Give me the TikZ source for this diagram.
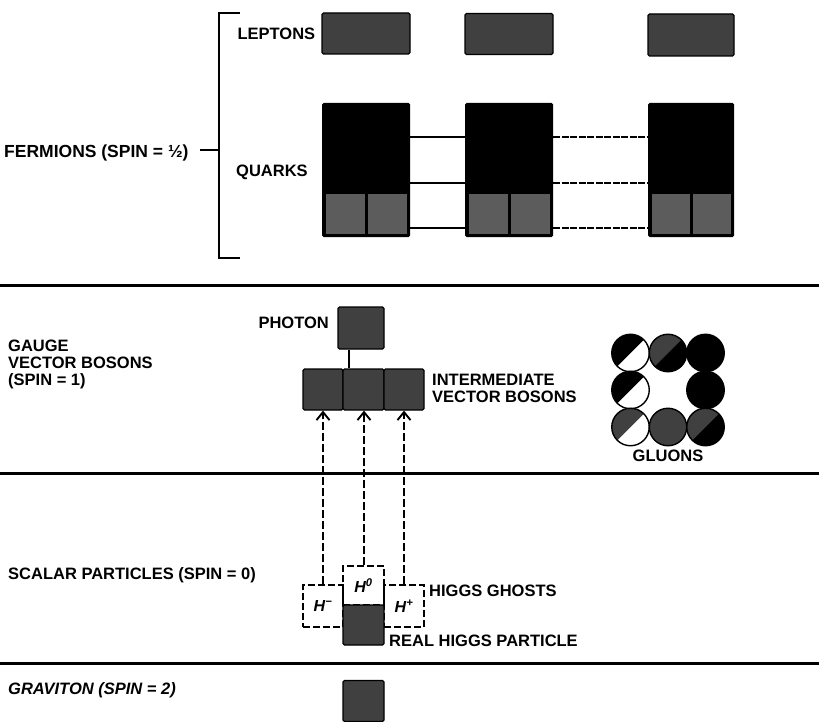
\documentclass[tikz,border=0pt]{standalone}
\usepackage{fontspec}
\setmainfont{Liberation Sans}
\usepackage{tikz}
\usetikzlibrary{arrows.meta, positioning}

\definecolor{speck}{gray}{0.25}
\definecolor{speckq}{gray}{0.36}

\tikzstyle{lbl} = [font=\fontsize{16.5}{17}\selectfont\bfseries, inner sep=0pt, anchor=west, align=left]
\tikzstyle{stip} = [rectangle, draw=black, line width=1.2pt, fill=speck, rounded corners=1.5pt, inner sep=0pt]
\tikzstyle{quark} = [rectangle, fill=black, rounded corners=1.5pt, minimum width=88pt, minimum height=134pt, inner sep=0pt]
\tikzstyle{qhalf} = [rectangle, fill=speckq, minimum width=39pt, minimum height=40pt, inner sep=0pt]
\tikzstyle{ghost} = [rectangle, draw=black, dash pattern=on 7pt off 3pt, line width=1.2pt, inner sep=0pt, font=\fontsize{16}{18}\selectfont\bfseries\itshape]
\tikzstyle{divider} = [line width=3pt]
\tikzstyle{qline} = [line width=1.8pt]
\tikzstyle{arrow} = [line width=1.5pt, dash pattern=on 8pt off 3pt, -{Straight Barb[length=8pt,width=13pt,line width=1.9pt]}]
\tikzstyle{gluon} = [circle, draw=black, line width=1.4pt, minimum size=37.5pt, inner sep=0pt]
\tikzset{half/.style 2 args={fill=#2, path picture={\fill[#1] (path picture bounding box.north west) -- (path picture bounding box.north east) -- (path picture bounding box.south west) -- cycle;}}}

\begin{document}
\begin{tikzpicture}[x=1pt, y=1pt]
        \useasboundingbox (0,0) rectangle (819,-722);

        % Fermions
        \node (ferm) [lbl, font=\fontsize{17.5}{18}\selectfont\bfseries] at (4,-153) {FERMIONS (SPIN = ½)};
        \coordinate (brk) at (219,-150);
        \coordinate (brktop) at (219,-13);
        \coordinate (brkbot) at (219,-258);
        \draw [line width=1.5pt] ([xshift=21pt]brktop) -- (brktop) -- (brkbot) -- ([xshift=21pt]brkbot);
        \draw [line width=1.3pt] ([xshift=-19pt]brk) -- (brk);

        % Leptons
        \node (lep1) [stip, minimum width=88pt, minimum height=41pt] at (366,-33.5) {};
        \node (lep2) [stip, minimum width=88pt, minimum height=41pt] at (509,-34) {};
        \node (lep3) [stip, minimum width=86pt, minimum height=42pt] at (691,-35) {};
        \node (leplbl) [lbl, left=6pt of lep1] {LEPTONS};

        % Quarks
        \node (qk1) [quark] at (366,-170) {};
        \node (qk2) [quark] at (509,-170) {};
        \node (qk3) [quark, minimum width=86pt] at (691,-170) {};
        \node (qk1a) [qhalf] at (345,-214) {};
        \node (qk1b) [qhalf] at (387,-214) {};
        \node (qk2a) [qhalf] at (488,-214) {};
        \node (qk2b) [qhalf] at (530,-214) {};
        \node (qk3a) [qhalf, minimum width=38pt] at (670.5,-214) {};
        \node (qk3b) [qhalf, minimum width=38pt] at (711.5,-214) {};
        \node (qklbl) [lbl] at (236,-172) {QUARKS};

        \coordinate (qa) at (0,-137);
        \coordinate (qb) at (0,-183);
        \coordinate (qc) at (0,-228);
        \draw [qline] (qk1.east |- qa) -- (qk2.west |- qa);
        \draw [qline] (qk1.east |- qb) -- (qk2.west |- qb);
        \draw [qline] (qk1.east |- qc) -- (qk2.west |- qc);
        \draw [qline, dash pattern=on 7pt off 1.5pt] (qk2.east |- qa) -- (qk3.west |- qa);
        \draw [qline, dash pattern=on 7pt off 1.5pt] (qk2.east |- qb) -- (qk3.west |- qb);
        \draw [qline, dash pattern=on 7pt off 1.5pt] (qk2.east |- qc) -- (qk3.west |- qc);

        % Trennlinien
        \draw [divider] (0,-285) -- (819,-285);
        \draw [divider] (0,-473) -- (819,-473);
        \draw [divider] (0,-663) -- (819,-663);

        % Gauge vector bosons
        \node (gauge) [lbl] at (8,-364) {GAUGE\\VECTOR BOSONS\\(SPIN = 1)};
        \node (photon) [stip, minimum width=46pt, minimum height=42pt] at (361,-328) {};
        \node (phlbl) [lbl, anchor=east] at (329,-323) {PHOTON};
        \node (ivb1) [stip, minimum width=40pt, minimum height=41pt] at (323,-389.5) {};
        \node (ivb2) [stip, minimum width=41pt, minimum height=41pt] at (363.5,-389.5) {};
        \node (ivb3) [stip, minimum width=40pt, minimum height=41pt] at (404,-389.5) {};
        \node (ivblbl) [lbl] at (432,-388) {INTERMEDIATE\\VECTOR BOSONS};
        \coordinate (phx) at (349,0);
        \draw [line width=1.5pt] (photon.south -| phx) -- (ivb2.north -| phx);

        % Gluons
        \node (g1) [gluon, half={black}{white}] at (630.5,-353) {};
        \node (g2) [gluon, half={speck}{black}] at (668,-353) {};
        \node (g3) [gluon, half={black}{black}] at (705.5,-353) {};
        \node (g4) [gluon, half={black}{white}] at (630.5,-390) {};
        \node (g5) [gluon, half={black}{black}] at (705.5,-390) {};
        \node (g6) [gluon, half={speck}{white}] at (630.5,-427) {};
        \node (g7) [gluon, half={speck}{speck}] at (668,-427) {};
        \node (g8) [gluon, half={speck}{black}] at (705.5,-427) {};
        \node (glulbl) [lbl, anchor=center] at (668,-456) {GLUONS};

        % Scalar particles
        \node (scalar) [lbl] at (8,-575) {SCALAR PARTICLES (SPIN = 0)};
        \node (hm) [ghost, minimum width=40pt, minimum height=42pt] at (323,-606) {H\textsuperscript{−}};
        \node (h0) [ghost, minimum width=41pt, minimum height=39pt] at (363.5,-585.5) {H\textsuperscript{0}};
        \node (hp) [ghost, minimum width=40pt, minimum height=42pt] at (404,-606) {H\textsuperscript{+}};
        \node (hreal) [stip, minimum width=41pt, minimum height=40pt] at (363.5,-625) {};
        \node (ghostlbl) [lbl] at (429,-591) {HIGGS GHOSTS};
        \node (reallbl) [lbl] at (389,-641) {REAL HIGGS PARTICLE};

        \draw [arrow] (hm.north) -- (hm.north |- ivb1.south);
        \draw [arrow] ([xshift=0.5pt]h0.north) -- ([xshift=0.5pt]h0.north |- ivb2.south);
        \draw [arrow] (hp.north) -- (hp.north |- ivb3.south);

        % Graviton
        \node (grav) [lbl, font=\fontsize{16.5}{17}\selectfont\bfseries\itshape] at (8,-690) {GRAVITON (SPIN = 2)};
        \node (gravbox) [stip, minimum width=41pt, minimum height=41pt] at (363.5,-701) {};
\end{tikzpicture}
\end{document}
